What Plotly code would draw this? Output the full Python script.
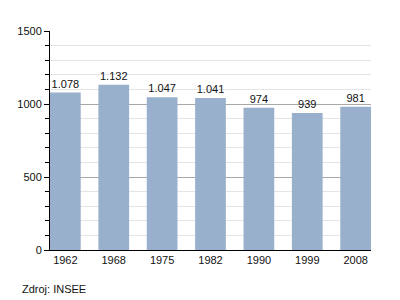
import plotly.graph_objects as go

years = ["1962", "1968", "1975", "1982", "1990", "1999", "2008"]
population = [1078, 1132, 1047, 1041, 974, 939, 981]

bar_w = 0.635

fig = go.Figure()
fig.add_trace(go.Bar(
    x=years, y=population, width=bar_w,
    marker=dict(color="#99b0cc", line=dict(width=0)),
    text=population, texttemplate="%{y:,d}", textposition="outside",
    textfont=dict(family="Liberation Sans, Arial, sans-serif", size=11, color="#111"),
    cliponaxis=False,
))
fig.update_layout(
    width=400, height=300,
    margin=dict(l=50, r=29, t=31, b=50),
    paper_bgcolor="white", plot_bgcolor="white",
    separators=",.",
    showlegend=False,
    font=dict(family="Liberation Sans, Arial, sans-serif", size=11, color="#111"),
    xaxis=dict(showline=True, linecolor="black", linewidth=1, ticks="", showgrid=False,
               range=[-bar_w / 2, len(years) - 1 + bar_w / 2],
               tickfont=dict(size=11)),
    yaxis=dict(range=[0, 1500], dtick=500, showline=True, linecolor="black", linewidth=1,
               ticks="outside", ticklen=5, tickcolor="black",
               gridcolor="#a8a8a8", gridwidth=1, zeroline=False,
               tickfont=dict(size=11),
               minor=dict(dtick=100, ticks="outside", ticklen=4, tickcolor="black",
                          showgrid=True, gridcolor="#e4e4e4", gridwidth=1)),
)
fig.add_annotation(text="Zdroj: INSEE", xref="paper", yref="paper", x=-30/321, y=-39/219,
                   xanchor="left", yanchor="middle", showarrow=False,
                   font=dict(size=11, color="#111"))
fig.write_html("out.html")
